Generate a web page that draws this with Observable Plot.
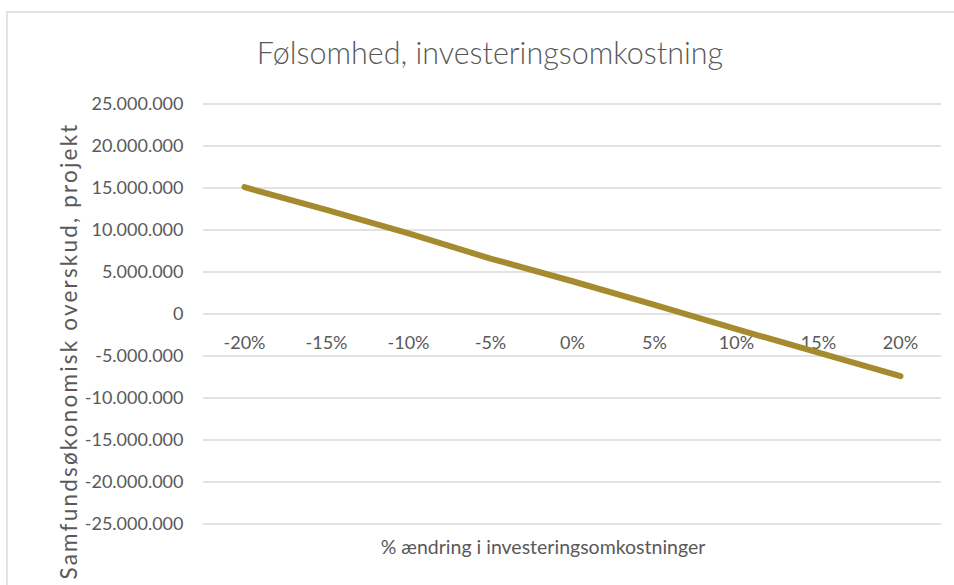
<!DOCTYPE html>
<html>
<head>
<meta charset="utf-8">
<script src="https://cdn.jsdelivr.net/npm/d3@7"></script>
<script src="https://cdn.jsdelivr.net/npm/@observablehq/plot@0.6"></script>
<style>
  html, body { margin: 0; padding: 0; background: #fff; }
  #wrap { position: relative; width: 954px; height: 585px; overflow: hidden; font-family: Lato, "Open Sans", sans-serif; color: #595959; }
  #border { position: absolute; left: 6px; top: 11px; width: 1000px; height: 600px; border-left: 2px solid #e3e3e3; border-top: 2px solid #e3e3e3; box-sizing: border-box; }
  #title { position: absolute; left: 0; width: 980px; top: 34px; text-align: center; font-size: 30.5px; font-weight: 300; color: #595959; white-space: nowrap; }
  #xlabel { position: absolute; left: 543px; top: 535px; transform: translateX(-50%); font-size: 19.5px; white-space: nowrap; }
  #ylabel { position: absolute; left: 68px; top: 351px; transform: translate(-50%, -50%) rotate(-90deg); font-size: 22.5px; letter-spacing: 2.2px; white-space: nowrap; }
  #chart { position: absolute; left: 0; top: 0; }
</style>
</head>
<body>
<div id="wrap">
  <div id="border"></div>
  <div id="chart"></div>
  <div id="title">Følsomhed, investeringsomkostning</div>
  <div id="xlabel">% ændring i investeringsomkostninger</div>
  <div id="ylabel">Samfundsøkonomisk overskud, projekt</div>
</div>
<script>
const categories = ["-20%", "-15%", "-10%", "-5%", "0%", "5%", "10%", "15%", "20%"];
const values = [15100000, 12400000, 9600000, 6600000, 3900000, 1100000, -1800000, -4600000, -7400000];
const yTicks = [25000000, 20000000, 15000000, 10000000, 5000000, 0, -5000000, -10000000, -15000000, -20000000, -25000000];

const data = categories.map((c, i) => ({cat: c, value: values[i]}));
const locale = d3.formatLocale({decimal: ",", thousands: ".", grouping: [3], currency: ["", ""], minus: "-"});
const fmt = locale.format(",");

const chart = Plot.plot({
  width: 954,
  height: 585,
  marginTop: 103.5,
  marginBottom: 61.5,
  marginLeft: 203,
  marginRight: 13,
  style: {fontFamily: "Lato, 'Open Sans', sans-serif", fontSize: "18px", color: "#595959", background: "transparent"},
  x: {type: "point", domain: categories, padding: 0.5, axis: null},
  y: {domain: [-25000000, 25000000], ticks: yTicks, tickFormat: fmt, tickSize: 0, tickPadding: 20, label: null},
  marks: [
    Plot.gridY(yTicks, {stroke: "#d9d9d9", strokeOpacity: 1, strokeWidth: 1.5}),
    Plot.axisY(yTicks, {tickSize: 0, tickPadding: 20, tickFormat: fmt, label: null, fill: "#595959", fontSize: 18}),
    Plot.text(categories, {x: d => d, y: () => 0, dy: 29, text: d => d, fill: "#595959", fontSize: 18}),
    Plot.line(data, {x: "cat", y: "value", stroke: "#a68a2e", strokeWidth: 6, strokeLinecap: "round", strokeLinejoin: "round"})
  ]
});
document.getElementById("chart").appendChild(chart);
</script>
</body>
</html>
